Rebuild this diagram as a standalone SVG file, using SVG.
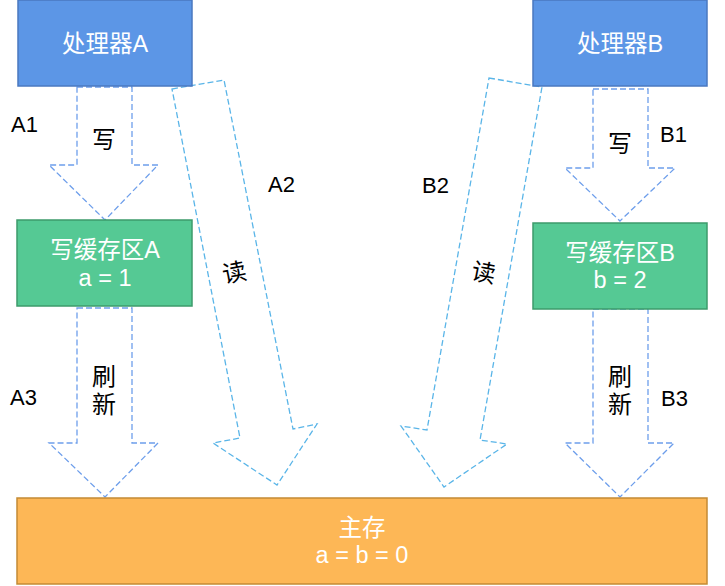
<svg xmlns="http://www.w3.org/2000/svg" width="725" height="586" viewBox="0 0 725 586">
<style>
.proc{fill:#5c96e6;stroke:#4a78c0;stroke-width:1.5}
.buf{fill:#55c994;stroke:#3d9b6b;stroke-width:1.5}
.mem{fill:#fdb756;stroke:#c48a34;stroke-width:1.5}
.nt{font-family:"Liberation Sans","Noto Sans CJK SC",sans-serif;font-size:23.5px;fill:#ffffff;text-anchor:middle}
.lb{font-family:"Liberation Sans","Noto Sans CJK SC",sans-serif;font-size:22px;fill:#000000}
.at{font-family:"Noto Sans CJK SC",sans-serif;font-size:24px;fill:#000000;text-anchor:middle}
.vt{font-family:"Noto Sans CJK SC",sans-serif;font-size:24px;fill:#000000;writing-mode:vertical-rl;text-orientation:upright;letter-spacing:4px}
.va{fill:#ffffff;stroke:#6d9eeb;stroke-width:1.3;stroke-dasharray:6,3}
.sa{fill:#ffffff;stroke:#5ab5e8;stroke-width:1.3;stroke-dasharray:6,3}
</style>
<g id="connectors">
<g id="A1">
<polygon class="va" points="77,87 132,87 132,165 158,165 105,220 49,165 77,165"/>
<text class="at" x="104" y="148">写</text>
</g>
<g id="A3">
<polygon class="va" points="77,308 132,308 132,443 158,443 105,497 49,443 77,443"/>
<text class="vt" x="104" y="364">刷新</text>
</g>
<g id="B1">
<polygon class="va" points="593,89 648,89 648,168 675,168 620,221 565,168 593,168"/>
<text class="at" x="620" y="152">写</text>
</g>
<g id="B3">
<polygon class="va" points="593,309 648,309 648,443 674,443 620,497 565,443 593,443"/>
<text class="vt" x="620" y="364">刷新</text>
</g>
<g id="A2">
<polygon class="sa" points="172,89 224,80 293,429 317,424 277,485 213,443 240,438"/>
<text class="at" transform="translate(236,281) rotate(-11)" x="0" y="0">读</text>
</g>
<g id="B2">
<polygon class="sa" points="489,78 542,87 480,440 507,444 444,487 401,426 427,430"/>
<text class="at" transform="translate(482,281) rotate(11)" x="0" y="0">读</text>
</g>
</g>
<g id="procA">
<rect class="proc" x="18" y="0" width="174" height="86"/>
<text class="nt" x="105" y="52">处理器A</text>
</g>
<g id="procB">
<rect class="proc" x="533" y="0" width="174" height="86"/>
<text class="nt" x="620" y="52">处理器B</text>
</g>
<g id="bufA">
<rect class="buf" x="17" y="220" width="175" height="86"/>
<text class="nt" x="105" y="258">写缓存区A</text>
<text class="nt" x="105" y="286">a = 1</text>
</g>
<g id="bufB">
<rect class="buf" x="533" y="223" width="174" height="86"/>
<text class="nt" x="620" y="261">写缓存区B</text>
<text class="nt" x="620" y="288">b = 2</text>
</g>
<g id="mem">
<rect class="mem" x="17" y="498" width="690" height="86"/>
<text class="nt" x="362" y="536">主存</text>
<text class="nt" x="362" y="563">a = b = 0</text>
</g>
<g id="labels">
<text class="lb" x="11" y="132">A1</text>
<text class="lb" x="268" y="192">A2</text>
<text class="lb" x="10" y="405">A3</text>
<text class="lb" x="660" y="142">B1</text>
<text class="lb" x="422" y="193">B2</text>
<text class="lb" x="661" y="406">B3</text>
</g>
</svg>
